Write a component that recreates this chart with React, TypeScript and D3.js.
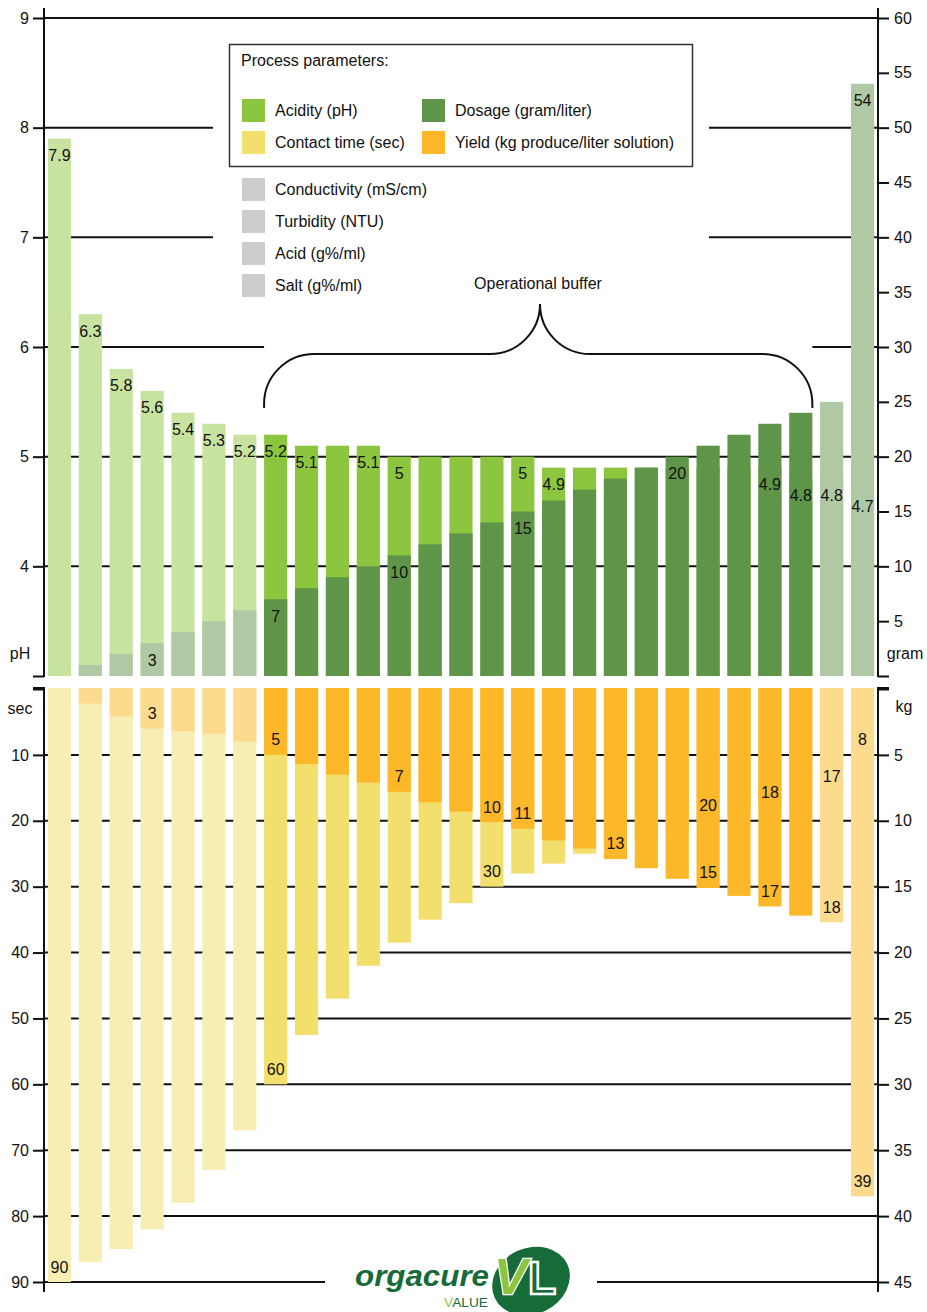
import * as d3 from "d3";
import { useRef, useEffect } from "react";

// one entry per trial run, left to right
const acidity = [7.9, 6.3, 5.8, 5.6, 5.4, 5.3, 5.2, 5.2, 5.1, 5.1, 5.1, 5.0, 5.0, 5.0, 5.0, 5.0, 4.9, 4.9, 4.9, 4.9, 4.9, 4.9, 4.9, 4.9, 4.8, 4.8, 4.7];
const dosage = [0, 1, 2, 3, 4, 5, 6, 7, 8, 9, 10, 11, 12, 13, 14, 15, 16, 17, 18, 19, 20, 21, 22, 23, 24, 25, 54];
const contactTime = [90, 87, 85, 82, 78, 73, 67, 60, 52.5, 47, 42, 38.5, 35, 32.5, 30, 28, 26.5, 25, 24, 23, 22, 20, 19, 18, 17, 15.5, 10];
const yieldKg = [0, 1.1, 2.1, 3, 3.2, 3.4, 4, 5, 5.7, 6.5, 7.1, 7.8, 8.6, 9.3, 10.1, 10.6, 11.5, 12.1, 12.9, 13.6, 14.4, 15.1, 15.7, 16.5, 17.2, 17.7, 38.5];

const acidityLabels = ["7.9", "6.3", "5.8", "5.6", "5.4", "5.3", "5.2", "5.2", "5.1", "", "5.1", "5", "", "", "", "5", "4.9", "", "", "", "", "", "", "4.9", "4.8", "4.8", "4.7"];
const dosageLabels = ["", "", "", "3", "", "", "", "7", "", "", "", "10", "", "", "", "15", "", "", "", "", "20", "", "", "", "", "", "54"];
const contactLabels = ["90", "", "", "", "", "", "", "60", "", "", "", "", "", "", "30", "", "", "", "", "", "", "20", "", "18", "", "17", "8"];
const yieldLabels = ["", "", "", "3", "", "", "", "5", "", "", "", "7", "", "", "10", "11", "", "", "13", "", "", "15", "", "17", "", "18", "39"];

// runs inside the operational buffer
const bufferFirst = 7;
const bufferLast = 24;

const phTicks = [3, 4, 5, 6, 7, 8, 9];
const gramTicks = [0, 5, 10, 15, 20, 25, 30, 35, 40, 45, 50, 55, 60];
const secTicks = [0, 10, 20, 30, 40, 50, 60, 70, 80, 90];
const kgTicks = [0, 5, 10, 15, 20, 25, 30, 35, 40, 45];

const legendMain = [
  { name: "Acidity (pH)", color: "#8cc63f" },
  { name: "Contact time (sec)", color: "#f3df6e" },
  { name: "Dosage (gram/liter)", color: "#5e9548" },
  { name: "Yield (kg produce/liter solution)", color: "#fcb828" },
];
const legendOther = ["Conductivity (mS/cm)", "Turbidity (NTU)", "Acid (g%/ml)", "Salt (g%/ml)"];

const FONT = "'Liberation Sans', Arial, Helvetica, sans-serif";
const INK = "#111";
const FS = 16;

export default function App() {
  const width = 927;
  const height = 1312;
  const left = 44;
  const right = 878;
  const topBase = 676;
  const botBase = 688;

  const gPh = useRef<SVGGElement>(null);
  const gGram = useRef<SVGGElement>(null);
  const gSec = useRef<SVGGElement>(null);
  const gKg = useRef<SVGGElement>(null);

  const runs = acidity.map((_, i) => i);
  const x = d3.scaleBand<number>().domain(runs).range([left, right]).paddingInner(0.25).paddingOuter(0.125);
  const bw = x.bandwidth();

  const yPh = d3.scaleLinear().domain([3, 9]).range([topBase, 18]);
  const yGram = d3.scaleLinear().domain([0, 60]).range([topBase, 18]);
  const ySec = d3.scaleLinear().domain([0, 90]).range([689, 1282]);
  const yKg = d3.scaleLinear().domain([0, 45]).range([689, 1282]);

  const inBuf = (i: number) => i >= bufferFirst && i <= bufferLast;

  useEffect(() => {
    const style = (g: any) => {
      g.attr("font-size", FS).attr("font-family", FONT);
      g.select(".domain").remove();
      g.selectAll(".tick line").attr("stroke", INK).attr("stroke-width", 2);
      g.selectAll(".tick text").attr("fill", INK);
    };
    const fmt = (zero: number) => (d: any) => (d === zero ? "" : String(d));
    d3.select(gPh.current!).call(d3.axisLeft(yPh).tickValues(phTicks).tickSize(11).tickPadding(4).tickFormat(fmt(3)) as any).call(style);
    d3.select(gGram.current!).call(d3.axisRight(yGram).tickValues(gramTicks).tickSize(11).tickPadding(5).tickFormat(fmt(0)) as any).call(style);
    d3.select(gSec.current!).call(d3.axisLeft(ySec).tickValues(secTicks).tickSize(11).tickPadding(4).tickFormat(fmt(0)) as any).call(style);
    d3.select(gKg.current!).call(d3.axisRight(yKg).tickValues(kgTicks).tickSize(11).tickPadding(5).tickFormat(fmt(0)) as any).call(style);
  }, []);

  const bufX0 = x(bufferFirst)!;
  const bufX1 = x(bufferLast)! + bw;
  const mid = 540;
  const r = 50;
  const braceY = 354;
  const brace = `M${bufX0},408 V${braceY + r} A${r},${r} 0 0 1 ${bufX0 + r},${braceY} H${mid - r} A${r},${r} 0 0 0 ${mid},${braceY - r} A${r},${r} 0 0 0 ${mid + r},${braceY} H${bufX1 - r} A${r},${r} 0 0 1 ${bufX1},${braceY + r} V408`;

  return (
    <svg width={width} height={height} style={{ position: "absolute", left: 0, top: 0, background: "#fff" }} fontFamily={FONT}>
      {/* grid lines */}
      <g stroke={INK} strokeWidth={2}>
        {phTicks.filter((t) => t > 3).map((t) => (
          <line key={"p" + t} x1={left} x2={right} y1={yPh(t)} y2={yPh(t)} />
        ))}
        {secTicks.filter((t) => t > 0).map((t) => (
          <line key={"s" + t} x1={left} x2={right} y1={ySec(t)} y2={ySec(t)} />
        ))}
      </g>
      {/* white knock-outs behind legend, brace and logo */}
      <rect x={213} y={30} width={496} height={280} fill="#fff" />
      <rect x={bufX0} y={296} width={bufX1 - bufX0} height={64} fill="#fff" />
      <rect x={325} y={1240} width={272} height={72} fill="#fff" />

      {/* top panel: acidity then dosage */}
      {runs.map((i) => (
        <g key={"t" + i}>
          <rect x={x(i)} y={yPh(acidity[i])} width={bw} height={topBase - yPh(acidity[i])} fill={inBuf(i) ? "#8cc63f" : "#c8e2a0"} />
          {dosage[i] > 0 && (
            <rect x={x(i)} y={yGram(dosage[i])} width={bw} height={topBase - yGram(dosage[i])} fill={inBuf(i) ? "#5e9548" : "#aec9a4"} />
          )}
        </g>
      ))}
      {/* bottom panel: contact time then yield */}
      {runs.map((i) => (
        <g key={"b" + i}>
          <rect x={x(i)} y={botBase} width={bw} height={ySec(contactTime[i]) - botBase} fill={inBuf(i) ? "#f3df6e" : "#f8edb3"} />
          {yieldKg[i] > 0 && (
            <rect x={x(i)} y={botBase} width={bw} height={yKg(yieldKg[i]) - botBase} fill={inBuf(i) ? "#fcb828" : "#fddb8e"} />
          )}
        </g>
      ))}

      {/* value labels */}
      <g fontSize={FS} fill={INK} textAnchor="middle" dominantBaseline="central">
        {runs.map((i) => (
          <g key={"l" + i}>
            {acidityLabels[i] && <text x={x(i)! + bw / 2} y={yPh(acidity[i]) + 17}>{acidityLabels[i]}</text>}
            {dosageLabels[i] && <text x={x(i)! + bw / 2} y={yGram(dosage[i]) + 17}>{dosageLabels[i]}</text>}
            {contactLabels[i] && <text x={x(i)! + bw / 2} y={ySec(contactTime[i]) - 15}>{contactLabels[i]}</text>}
            {yieldLabels[i] && <text x={x(i)! + bw / 2} y={yKg(yieldKg[i]) - 15}>{yieldLabels[i]}</text>}
          </g>
        ))}
      </g>

      {/* axes */}
      <g stroke={INK} strokeWidth={2}>
        <line x1={left} x2={left} y1={8} y2={topBase + 1} />
        <line x1={right} x2={right} y1={8} y2={topBase + 1} />
        <line x1={left} x2={left} y1={botBase - 1} y2={1292} />
        <line x1={right} x2={right} y1={botBase - 1} y2={1292} />
        <line x1={left - 11} x2={left} y1={botBase} y2={botBase} />
        <line x1={right} x2={right + 11} y1={botBase} y2={botBase} />
      </g>
      <g ref={gPh} transform={`translate(${left},0)`} />
      <g ref={gGram} transform={`translate(${right},0)`} />
      <g ref={gSec} transform={`translate(${left},0)`} />
      <g ref={gKg} transform={`translate(${right},0)`} />
      <g fontSize={FS} fill={INK} textAnchor="middle" dominantBaseline="central">
        <text x={20} y={653}>pH</text>
        <text x={905} y={653}>gram</text>
        <text x={20} y={708}>sec</text>
        <text x={904} y={706}>kg</text>
      </g>

      {/* legend */}
      <rect x={229.5} y={44.5} width={463} height={122} fill="#fff" stroke="#333" strokeWidth={1.5} />
      <g fontSize={FS} fill={INK} dominantBaseline="central">
        <text x={241} y={60}>Process parameters:</text>
        {legendMain.map((d, k) => {
          const lx = k < 2 ? 242 : 422;
          const ly = 99 + (k % 2) * 32;
          return (
            <g key={d.name}>
              <rect x={lx} y={ly} width={23} height={23} fill={d.color} />
              <text x={lx + 33} y={ly + 11.5}>{d.name}</text>
            </g>
          );
        })}
        {legendOther.map((name, k) => (
          <g key={name}>
            <rect x={242} y={178 + k * 32} width={23} height={23} fill="#cccccc" />
            <text x={275} y={189.5 + k * 32}>{name}</text>
          </g>
        ))}
        <text x={538} y={283} textAnchor="middle">Operational buffer</text>
      </g>
      <path d={brace} fill="none" stroke={INK} strokeWidth={2} />

      {/* logo */}
      <g>
        <ellipse cx={531} cy={1281} rx={40} ry={33} transform="rotate(-25 531 1281)" fill="#166b38" />
        <text x={355} y={1286} fontSize={30} fontWeight={900} fontStyle="italic" fill="#166b38" textLength={134} lengthAdjust="spacingAndGlyphs">orgacure</text>
        <text x={444} y={1307} fontSize={13} fill="#166b38" textLength={44} lengthAdjust="spacingAndGlyphs">
          <tspan fill="#8cc63f">V</tspan>ALUE
        </text>
        <text x={494} y={1294} fontSize={50} fontWeight={900} fontStyle="italic" fill="#8cc63f" stroke="#fff" strokeWidth={2.5} paintOrder="stroke">V</text>
        <text x={528} y={1294} fontSize={46} fontWeight={900} fill="#166b38" stroke="#fff" strokeWidth={2.5}>L</text>
      </g>
    </svg>
  );
}
